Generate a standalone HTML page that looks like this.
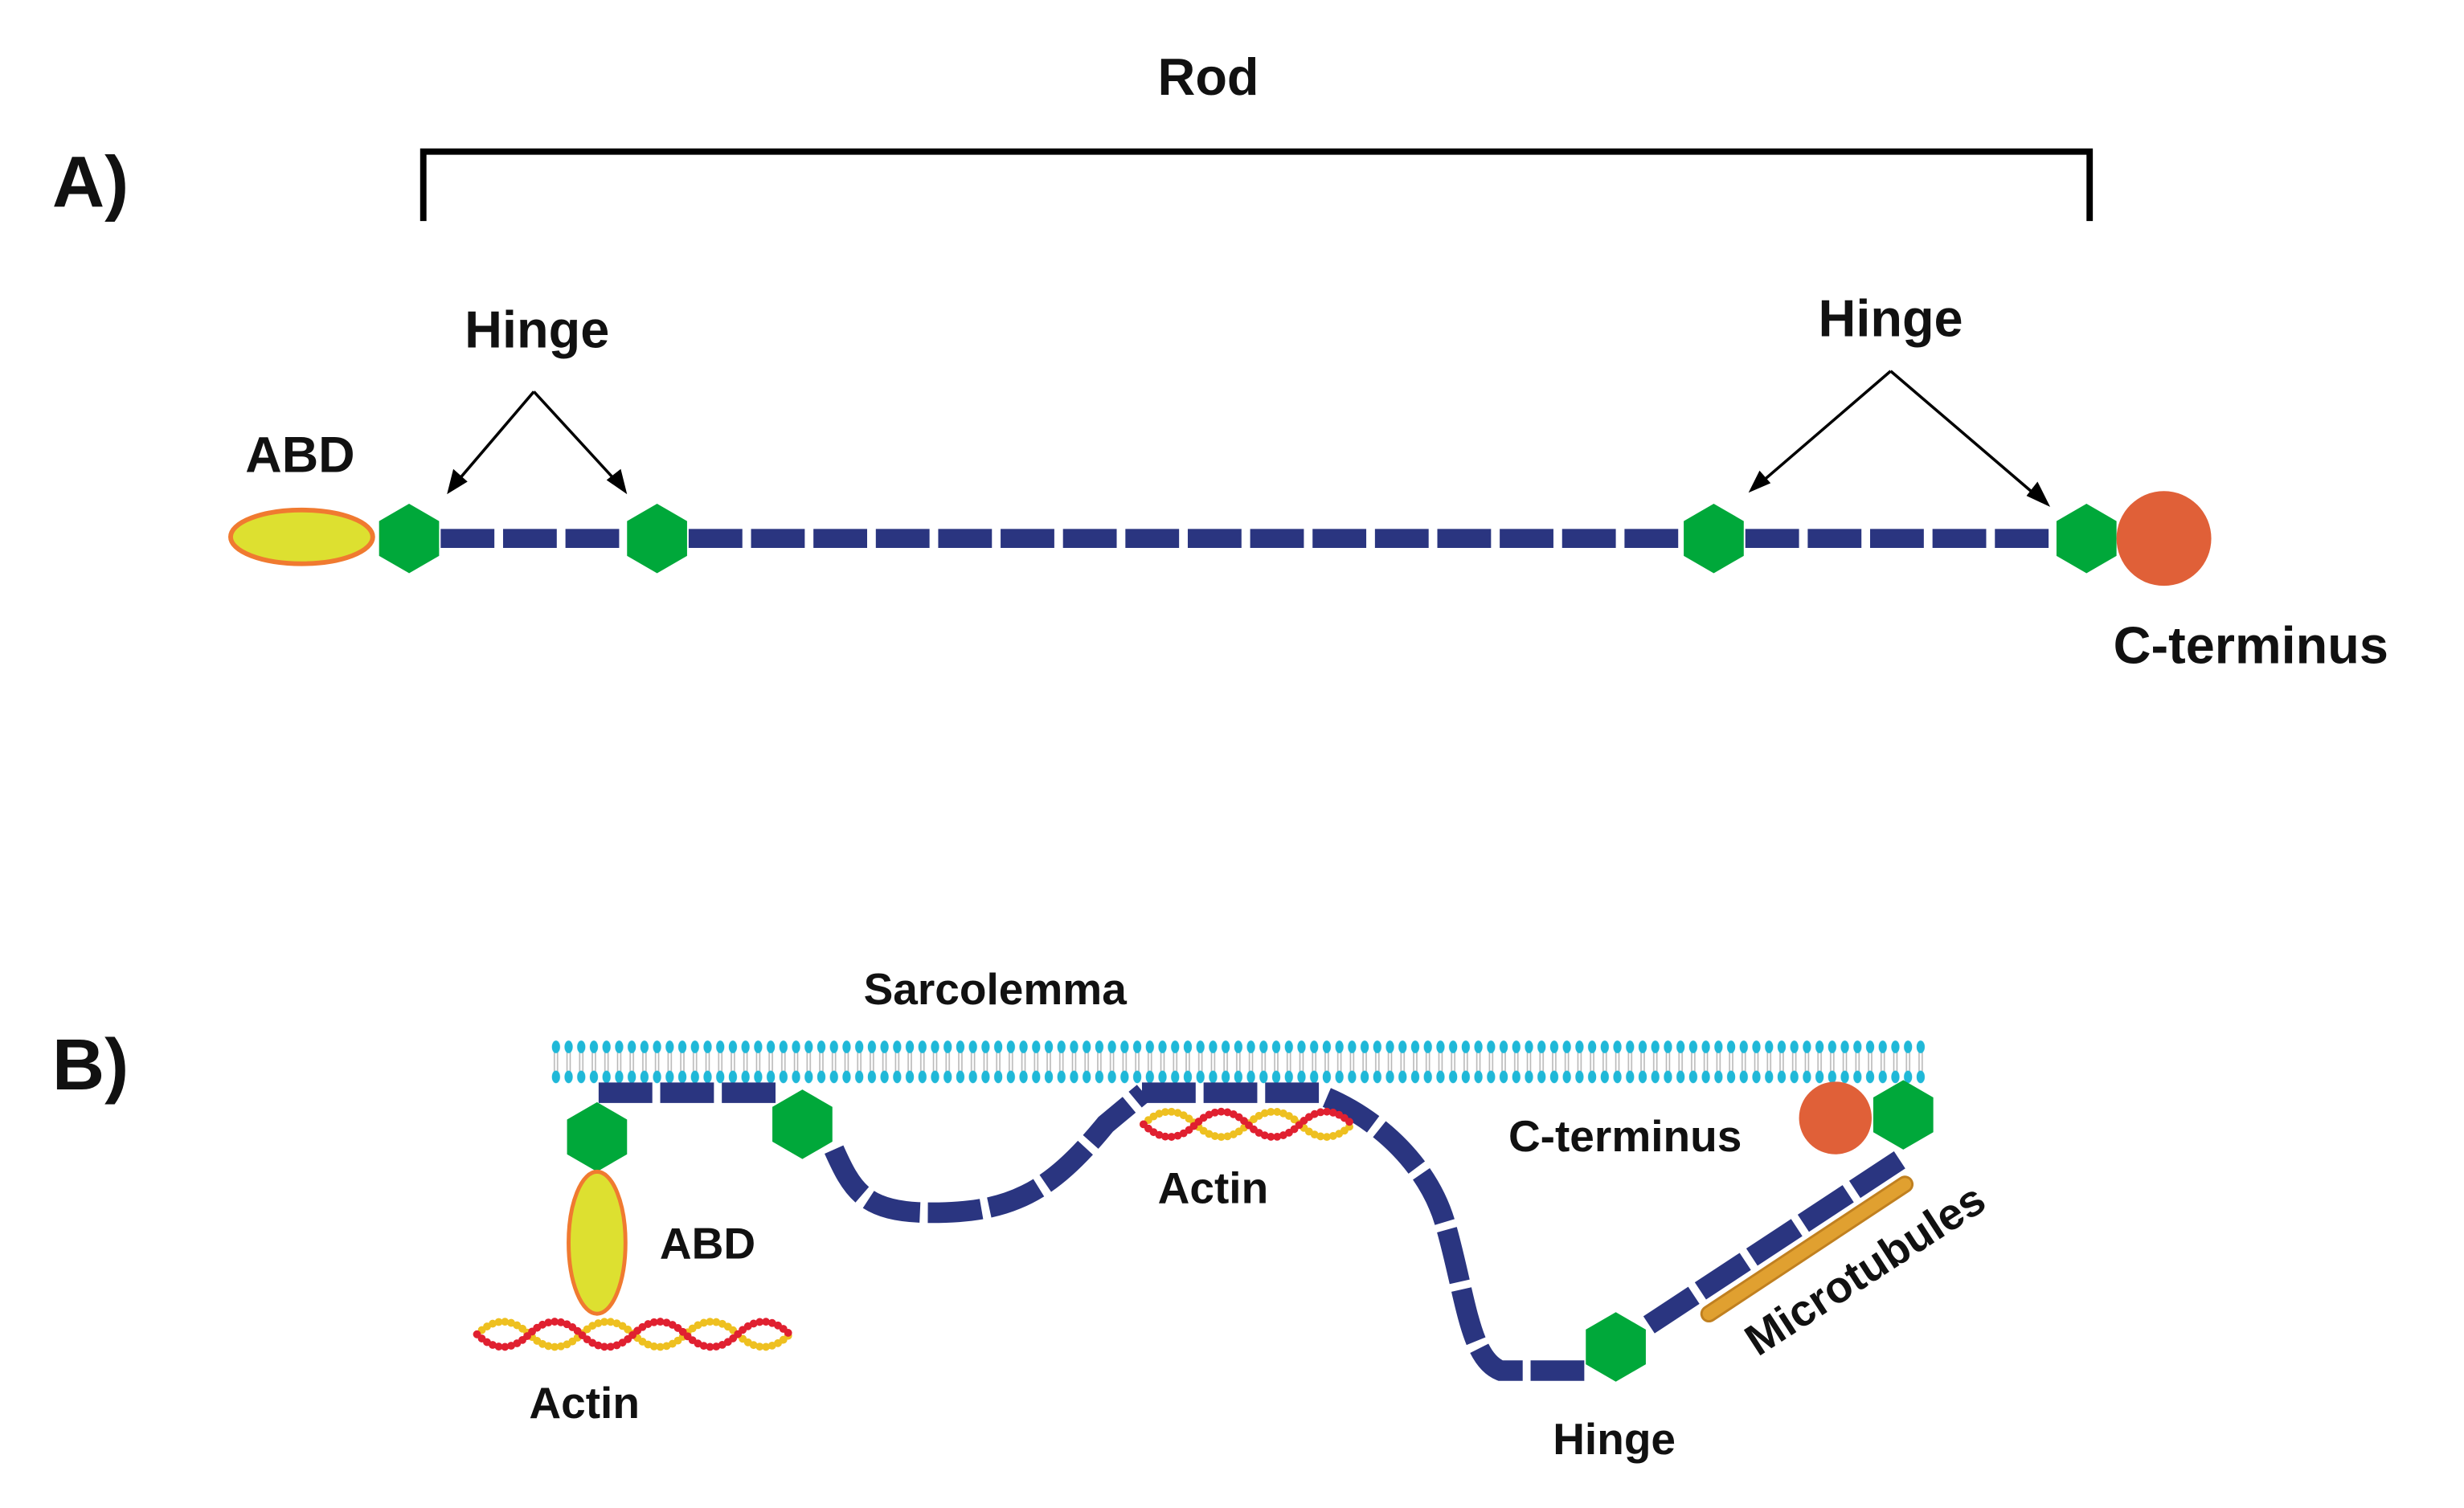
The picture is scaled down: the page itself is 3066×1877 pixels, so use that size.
<!DOCTYPE html>
<html><head><meta charset="utf-8"><style>
html,body{margin:0;padding:0;background:#fff;}
svg{display:block;}
text{font-family:"Liberation Sans",sans-serif;font-weight:bold;fill:#111;}
</style></head><body>
<svg width="3066" height="1877" viewBox="0 0 1560 955" preserveAspectRatio="none" xmlns="http://www.w3.org/2000/svg">
<defs>
<pattern id="mem" x="348" y="656" width="8" height="34" patternUnits="userSpaceOnUse">
<line x1="3" y1="8" x2="3" y2="26" stroke="#b8b8b8" stroke-width="0.8"/>
<line x1="5" y1="8" x2="5" y2="26" stroke="#b8b8b8" stroke-width="0.8"/>
<ellipse cx="4" cy="7" rx="2.6" ry="4" fill="#1fb8d8"/>
<ellipse cx="4" cy="26" rx="2.6" ry="4" fill="#1fb8d8"/>
</pattern>
<polygon id="hex" points="0,-22 19,-11 19,11 0,22 -19,11 -19,-11" fill="#00a83a"/>
</defs>

<!-- Panel A -->
<text x="765" y="60" font-size="33" text-anchor="middle">Rod</text>
<text x="33" y="131" font-size="46">A)</text>
<path d="M268,140 V96 H1323 V140" fill="none" stroke="#000" stroke-width="4"/>
<text x="340" y="220" font-size="33" text-anchor="middle">Hinge</text>
<text x="1197" y="213" font-size="33" text-anchor="middle">Hinge</text>
<text x="190" y="299" font-size="32" text-anchor="middle">ABD</text>
<g stroke="#000" stroke-width="1.8" fill="none">
<line x1="338" y1="248" x2="286" y2="309"/>
<line x1="338" y1="248" x2="394" y2="309"/>
<line x1="1197" y1="235" x2="1111" y2="309"/>
<line x1="1197" y1="235" x2="1294" y2="318"/>
</g>
<g fill="#000">
<polygon points="283,313 287,297 296,305"/>
<polygon points="397,313 384,304 393,297"/>
<polygon points="1107,312 1114,298 1121,306"/>
<polygon points="1298,321 1283,314 1290,305"/>
</g>
<g stroke="#2a3580" stroke-width="12" stroke-linecap="butt" stroke-dasharray="34 5.5" fill="none">
<line x1="279" y1="341" x2="397" y2="341"/>
<line x1="436" y1="341" x2="1066" y2="341"/>
<line x1="1105" y1="341" x2="1302" y2="341"/>
</g>
<ellipse cx="191" cy="340" rx="45" ry="17" fill="#dde030" stroke="#f07a30" stroke-width="3"/>
<use href="#hex" x="259" y="341"/>
<use href="#hex" x="416" y="341"/>
<use href="#hex" x="1085" y="341"/>
<use href="#hex" x="1321" y="341"/>
<circle cx="1370" cy="341" r="30" fill="#e06038"/>
<text x="1338" y="420" font-size="33">C-terminus</text>

<!-- Panel B -->
<text x="33" y="690" font-size="46">B)</text>
<text x="630" y="636" font-size="28" text-anchor="middle">Sarcolemma</text>
<rect x="348" y="656" width="872" height="34" fill="url(#mem)"/>

<g stroke="#2a3580" stroke-width="13" stroke-linecap="butt" stroke-dasharray="34 5" fill="none">
<line x1="379" y1="692" x2="495" y2="692"/>
<path d="M528,728 C540,755 548,768 590,768 C640,768 665,755 700,712 L724,692"/>
<line x1="723" y1="692" x2="840" y2="692"/>
<path d="M840,695 C875,710 905,740 915,775 C928,820 930,860 950,868 L1004,868"/>
<line x1="1044" y1="839" x2="1205" y2="733"/>
</g>
<line x1="1082" y1="832" x2="1206" y2="750" stroke="#c08020" stroke-width="11" stroke-linecap="round"/>
<line x1="1082" y1="832" x2="1206" y2="750" stroke="#e0a030" stroke-width="8" stroke-linecap="round"/>

<use href="#hex" x="378" y="720"/>
<use href="#hex" x="508" y="712"/>
<use href="#hex" x="1023" y="853"/>
<use href="#hex" x="1205" y="706"/>
<circle cx="1162" cy="708" r="23" fill="#e06038"/>
<ellipse cx="378" cy="787" rx="18" ry="45" fill="#dde030" stroke="#f07a30" stroke-width="2.5"/>

<!-- actin -->
<g fill="none" stroke-width="5" stroke-linecap="round" stroke-dasharray="0 4">
<path d="M302,845 q16.5,-16 33,0 q16.5,16 33,0 q16.5,-16 33,0 q16.5,16 33,0 q16.5,-16 33,0 q16.5,16 33,0" stroke="#eec020"/>
<path d="M302,845 q16.5,16 33,0 q16.5,-16 33,0 q16.5,16 33,0 q16.5,-16 33,0 q16.5,16 33,0 q16.5,-16 33,0" stroke="#e02030"/>
<path d="M724,712 q16.5,-16 33,0 q16.5,16 33,0 q16.5,-16 33,0 q16.5,16 33,0" stroke="#eec020"/>
<path d="M724,712 q16.5,16 33,0 q16.5,-16 33,0 q16.5,16 33,0 q16.5,-16 33,0" stroke="#e02030"/>
</g>

<text x="768" y="762" font-size="28" text-anchor="middle">Actin</text>
<text x="955" y="729" font-size="28">C-terminus</text>
<text x="448" y="797" font-size="28" text-anchor="middle">ABD</text>
<text x="370" y="898" font-size="28" text-anchor="middle">Actin</text>
<text x="1022" y="921" font-size="28" text-anchor="middle">Hinge</text>
<text x="1186" y="812" font-size="28" text-anchor="middle" transform="rotate(-33 1186 812)">Microtubules</text>
</svg>
</body></html>
